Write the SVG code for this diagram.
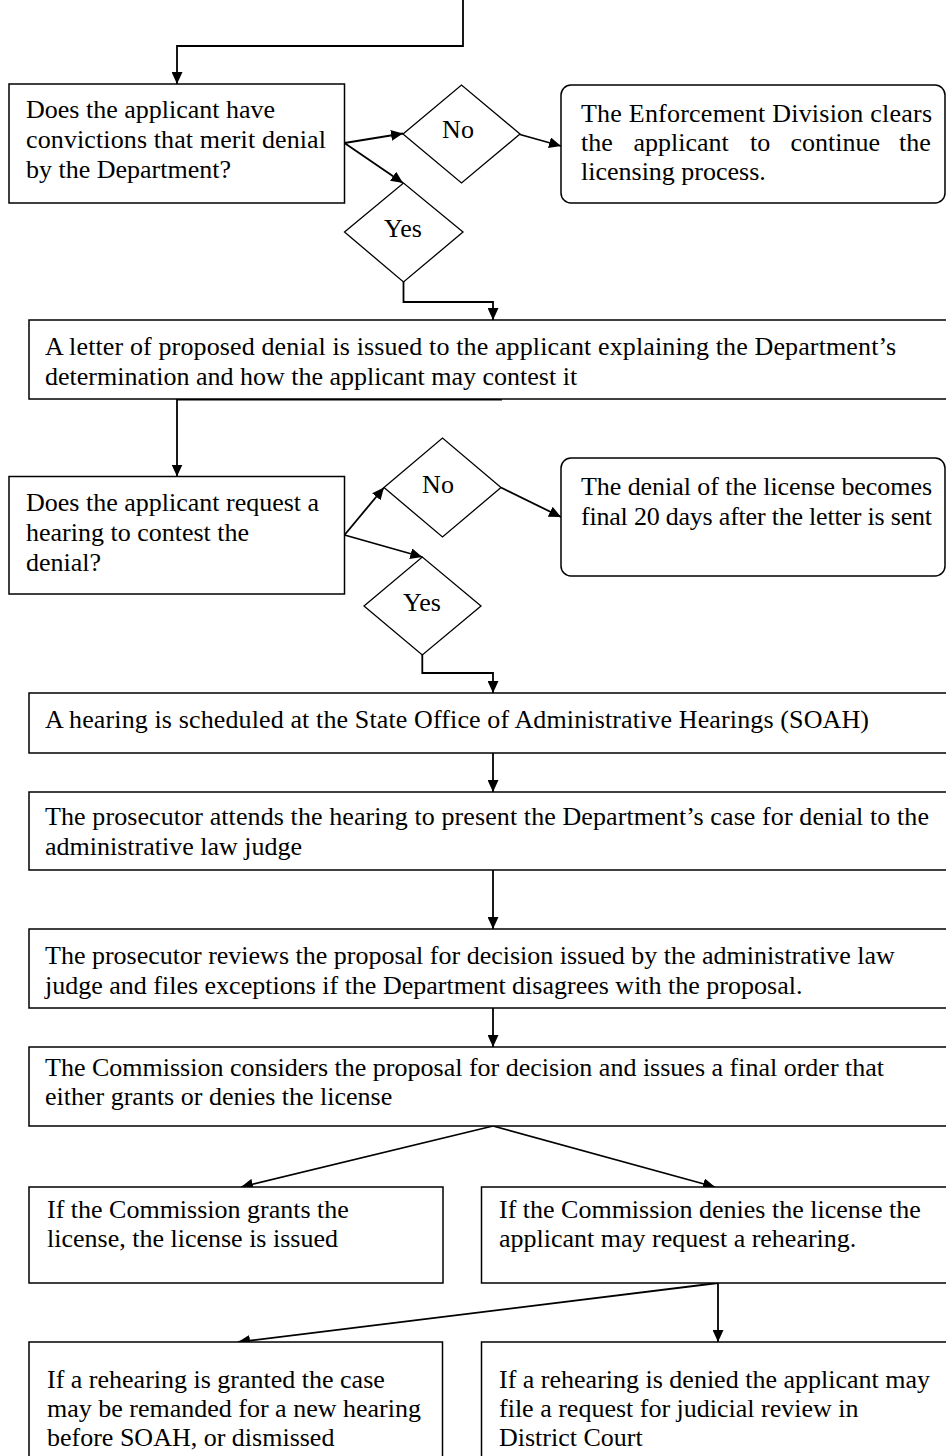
<svg xmlns="http://www.w3.org/2000/svg" width="946" height="1456" viewBox="0 0 946 1456">
  <style>
    .box { fill: #fff; stroke: #000; stroke-width: 1.5; }
    .dia { fill: #fff; stroke: #000; stroke-width: 1.3; }
    .lbl { font-family: "Liberation Serif", "Times New Roman", serif; font-size: 26px; fill: #000; }
    .mid { text-anchor: middle; }
    .wire { fill: none; stroke: #000; stroke-width: 1.8; }
  </style>
  <defs>
    <marker id="arrow" markerUnits="userSpaceOnUse" markerWidth="13" markerHeight="11" refX="12" refY="5.5" orient="auto">
      <path d="M0,0 L12,5.5 L0,11 Z" fill="#000"/>
    </marker>
  </defs>
  <rect width="946" height="1456" fill="#fff"/>

  <!-- connectors -->
  <g id="connectors">
    <path class="wire" d="M463,0 V46 H177 V84" marker-end="url(#arrow)"/>
    <path class="wire" d="M344.5,143 L403,133.5" marker-end="url(#arrow)"/>
    <path class="wire" d="M344.5,143 L403,183" marker-end="url(#arrow)"/>
    <path class="wire" d="M520,134.5 L561,146" marker-end="url(#arrow)"/>
    <path class="wire" d="M403.5,282 V302 H493 V320" marker-end="url(#arrow)"/>
    <path class="wire" d="M177,399 V476.5" marker-end="url(#arrow)"/>
    <path class="wire" d="M177,399.5 H502"/>
    <path class="wire" d="M344.5,535 L384,487.5" marker-end="url(#arrow)"/>
    <path class="wire" d="M344.5,535 L422.3,557" marker-end="url(#arrow)"/>
    <path class="wire" d="M501,487.5 L561,517" marker-end="url(#arrow)"/>
    <path class="wire" d="M422.3,655 V673 H493 V693" marker-end="url(#arrow)"/>
    <path class="wire" d="M493,753 V792" marker-end="url(#arrow)"/>
    <path class="wire" d="M493,870 V929" marker-end="url(#arrow)"/>
    <path class="wire" d="M493,1008 V1047" marker-end="url(#arrow)"/>
    <path class="wire" d="M493,1126 L241,1187" marker-end="url(#arrow)"/>
    <path class="wire" d="M493,1126 L715,1187" marker-end="url(#arrow)"/>
    <path class="wire" d="M718,1283 L238,1342" marker-end="url(#arrow)"/>
    <path class="wire" d="M718,1283 V1342" marker-end="url(#arrow)"/>
  </g>

  <!-- first screening question -->
  <g id="q-convictions">
    <rect class="box" x="9" y="84" width="335.5" height="119"/>
    <text class="lbl" x="26" y="118">Does the applicant have</text>
    <text class="lbl" x="26" y="148" textLength="300" lengthAdjust="spacing">convictions that merit denial</text>
    <text class="lbl" x="26" y="178">by the Department?</text>
  </g>
  <g id="no-1">
    <polygon class="dia" points="403,134 461.5,85 520,134 461.5,183"/>
    <text class="lbl mid" x="458" y="138">No</text>
  </g>
  <g id="cleared">
    <rect class="box" x="561" y="85" width="384" height="118" rx="10"/>
    <text class="lbl" x="581" y="122" textLength="351" lengthAdjust="spacing">The Enforcement Division clears</text>
    <text class="lbl" y="151"><tspan x="581">the</tspan><tspan x="633.5">applicant</tspan><tspan x="750">to</tspan><tspan x="790.5">continue</tspan><tspan x="899">the</tspan></text>
    <text class="lbl" x="581" y="180">licensing process.</text>
  </g>
  <g id="yes-1">
    <polygon class="dia" points="344.5,232 403.5,183 463,232 403.5,282"/>
    <text class="lbl mid" x="403" y="237">Yes</text>
  </g>

  <!-- proposed denial -->
  <g id="letter">
    <rect class="box" x="29" y="320" width="940" height="79"/>
    <text class="lbl" x="45" y="355" textLength="851" lengthAdjust="spacing">A letter of proposed denial is issued to the applicant explaining the Department’s</text>
    <text class="lbl" x="45" y="385">determination and how the applicant may contest it</text>
  </g>
  <g id="q-hearing">
    <rect class="box" x="9" y="476.5" width="335.5" height="117.5"/>
    <text class="lbl" x="26" y="511">Does the applicant request a</text>
    <text class="lbl" x="26" y="541">hearing to contest the</text>
    <text class="lbl" x="26" y="571">denial?</text>
  </g>
  <g id="no-2">
    <polygon class="dia" points="384,487.5 442.5,438 501,487.5 442.5,537"/>
    <text class="lbl mid" x="438" y="493">No</text>
  </g>
  <g id="final-denial">
    <rect class="box" x="561" y="458" width="384" height="118" rx="10"/>
    <text class="lbl" x="581" y="495" textLength="351" lengthAdjust="spacing">The denial of the license becomes</text>
    <text class="lbl" x="581" y="525" textLength="351" lengthAdjust="spacing">final 20 days after the letter is sent</text>
  </g>
  <g id="yes-2">
    <polygon class="dia" points="364,606 422.3,557 481,606 422.3,655"/>
    <text class="lbl mid" x="422" y="611">Yes</text>
  </g>

  <!-- hearing stages -->
  <g id="soah">
    <rect class="box" x="29" y="693" width="940" height="60"/>
    <text class="lbl" x="45" y="728" textLength="824" lengthAdjust="spacing">A hearing is scheduled at the State Office of Administrative Hearings (SOAH)</text>
  </g>
  <g id="prosecutor-attends">
    <rect class="box" x="29" y="792" width="940" height="78"/>
    <text class="lbl" x="45" y="825" textLength="884" lengthAdjust="spacing">The prosecutor attends the hearing to present the Department’s case for denial to the</text>
    <text class="lbl" x="45" y="855">administrative law judge</text>
  </g>
  <g id="prosecutor-reviews">
    <rect class="box" x="29" y="929" width="940" height="79"/>
    <text class="lbl" x="45" y="964">The prosecutor reviews the proposal for decision issued by the administrative law</text>
    <text class="lbl" x="45" y="994">judge and files exceptions if the Department disagrees with the proposal.</text>
  </g>
  <g id="commission">
    <rect class="box" x="29" y="1047" width="940" height="79"/>
    <text class="lbl" x="45" y="1076">The Commission considers the proposal for decision and issues a final order that</text>
    <text class="lbl" x="45" y="1105">either grants or denies the license</text>
  </g>

  <!-- outcomes -->
  <g id="granted">
    <rect class="box" x="29" y="1187" width="414" height="96"/>
    <text class="lbl" x="47" y="1218">If the Commission grants the</text>
    <text class="lbl" x="47" y="1247">license, the license is issued</text>
  </g>
  <g id="denied">
    <rect class="box" x="481.5" y="1187" width="480" height="96"/>
    <text class="lbl" x="499" y="1218">If the Commission denies the license the</text>
    <text class="lbl" x="499" y="1247">applicant may request a rehearing.</text>
  </g>
  <g id="rehearing-granted">
    <rect class="box" x="29" y="1342" width="413.5" height="130"/>
    <text class="lbl" x="47" y="1388">If a rehearing is granted the case</text>
    <text class="lbl" x="47" y="1417">may be remanded for a new hearing</text>
    <text class="lbl" x="47" y="1446">before SOAH, or dismissed</text>
  </g>
  <g id="rehearing-denied">
    <rect class="box" x="481.5" y="1342" width="480" height="130"/>
    <text class="lbl" x="499" y="1388">If a rehearing is denied the applicant may</text>
    <text class="lbl" x="499" y="1417">file a request for judicial review in</text>
    <text class="lbl" x="499" y="1446">District Court</text>
  </g>
</svg>
